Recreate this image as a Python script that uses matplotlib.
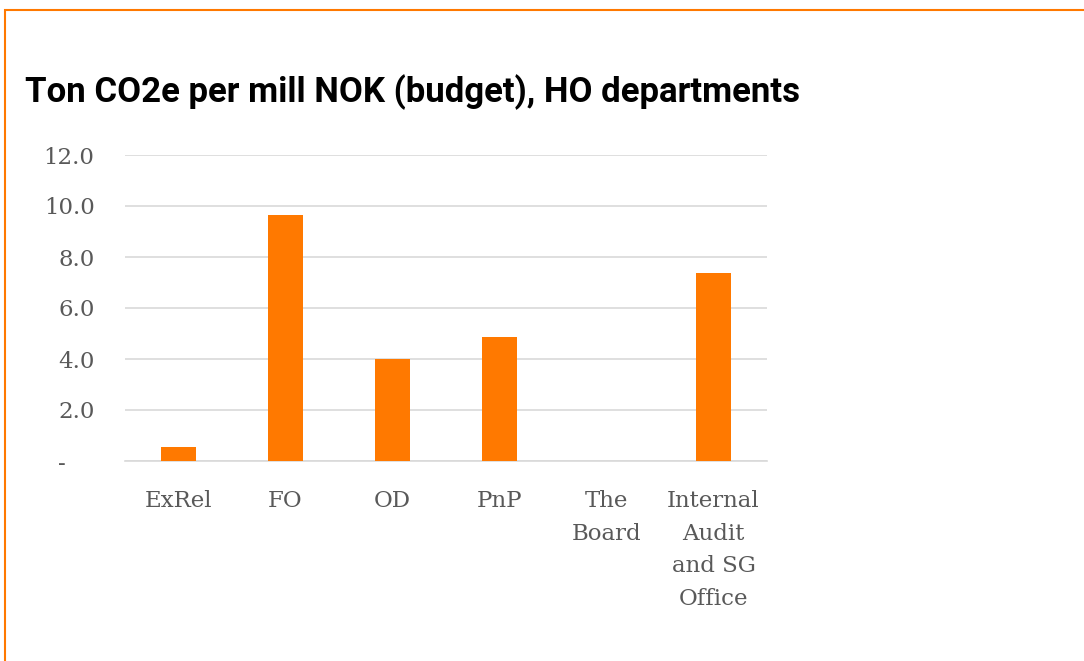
import matplotlib.pyplot as plt
from matplotlib.patches import Rectangle
from matplotlib.ticker import FuncFormatter

# Ton CO2e per mill NOK (budget), per HO department
departments = ["ExRel", "FO", "OD", "PnP", "The\nBoard", "Internal\nAudit\nand SG\nOffice"]
values = [0.55, 9.65, 4.0, 4.87, 0.0, 7.37]
y_ticks = [0, 2, 4, 6, 8, 10, 12]

ORANGE = "#FF7900"
GREY = "#595959"
GRID = "#D9D9D9"

fig = plt.figure(figsize=(10.84, 6.61), dpi=100)

# orange frame around the chart (right and bottom run off the image)
fig.patches.append(Rectangle((5 / 1084, -0.05), 1.2, 1 - 10 / 661 + 0.05,
                             transform=fig.transFigure, fill=False,
                             edgecolor=ORANGE, linewidth=1.5))

fig.text(25 / 1084, 1 - 102 / 661, "Ton CO2e per mill NOK (budget), HO departments",
         fontfamily="Roboto", fontweight="bold", fontsize=25, color="black",
         va="baseline", ha="left")

ax = fig.add_axes([125 / 1084, 1 - 461 / 661, 642 / 1084, 306 / 661])
x = range(len(departments))
ax.bar(x, values, width=0.32, color=ORANGE, zorder=3)

ax.set_xlim(-0.5, len(departments) - 0.5)
ax.set_ylim(0, 12)
ax.set_yticks(y_ticks)
# accounting style: zero shown as a dash set in from the right
ax.yaxis.set_major_formatter(FuncFormatter(lambda v, p: "-    " if v == 0 else f"{v:.1f}"))
ax.set_xticks(list(x))
ax.set_xticklabels(departments, linespacing=1.62, va="top")

ax.grid(axis="y", color=GRID, linewidth=1.2, zorder=0)
for side in ["top", "right", "left"]:
    ax.spines[side].set_visible(False)
ax.spines["bottom"].set_color(GRID)
ax.spines["bottom"].set_linewidth(1.2)
ax.tick_params(length=0, labelsize=16.5, colors=GREY)
ax.tick_params(axis="y", pad=22)
ax.tick_params(axis="x", pad=21)
for lbl in ax.get_xticklabels() + ax.get_yticklabels():
    lbl.set_fontfamily("DejaVu Serif")

fig.savefig("out.png", dpi=100)
